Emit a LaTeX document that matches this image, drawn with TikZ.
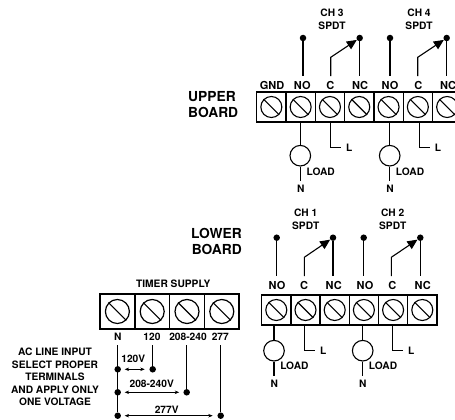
\documentclass[tikz,border=0pt]{standalone}
\usepackage{fontspec}
\setmainfont{TeX Gyre Heros}
\usetikzlibrary{arrows.meta}
\tikzset{
	lab/.style={font=\fontsize{10.2}{12.5}\selectfont\bfseries,inner sep=4.5pt},
	term/.style={font=\fontsize{11}{13}\selectfont\bfseries,inner sep=4.5pt},
	board/.style={font=\fontsize{13.8}{16.3}\selectfont\bfseries,align=left,inner sep=0pt},
	cell/.style={draw,line width=1.4pt,minimum width=29.3pt,minimum height=30pt,inner sep=0pt},
	bigcell/.style={draw,line width=1.5pt,minimum width=34.8pt,minimum height=35pt,inner sep=0pt},
	screw/.style={draw,circle,line width=1.1pt,minimum size=21pt,inner sep=0pt},
	bigscrew/.style={draw,circle,line width=1.2pt,minimum size=24pt,inner sep=0pt},
	dot/.style={fill,circle,minimum size=6.5pt,inner sep=0pt},
	loadc/.style={draw,circle,line width=1.1pt,minimum size=20.6pt,inner sep=0pt},
	wire/.style={line width=1.1pt},
	span/.style={line width=.7pt,<->,>={Stealth[length=4.5pt,width=3.5pt]}}
}
\begin{document}
\begin{tikzpicture}[x=1pt,y=-1pt]
\useasboundingbox (0,0) rectangle (455,420);
\clip (0,0) rectangle (455,420);
% upper board
\node[board] (upper) at (188,104.5) [anchor=west] {UPPER\\BOARD};
\foreach \i in {1,...,7}
{
	\node[cell] (u\i) at (242.05+29.3*\i,107) {};
	\node[screw] (us\i) at (u\i) {};
	\draw[wire] (us\i.135) -- (us\i.-45);
}
\foreach \t/\x [count=\i] in {GND/272,NO/302.3,C/330.3,NC/360,NO/390,C/418.3,NC/448}
{
	\node[term] (ut\i) at (\x,85) {\t};
}
\foreach \ch/\xch/\xno/\xc/\xnc/\xload/\xl in {3/332/303/330.7/359.7/300.3/330.7,4/419/390/417.7/446.7/389.7/419.3}
{
	\node[lab] (ch\ch) at (\xch,13) {CH \ch};
	\node[lab] (spdt\ch) at (\xch,25.7) {SPDT};
	\node[dot] (no\ch) at (\xno,38) {};
	\node[dot] (nc\ch) at (\xnc,38) {};
	\coordinate (el\ch) at (\xc,57.3);
	\draw[wire] (no\ch) -- (no\ch |- ut1.north);
	\draw[wire] (nc\ch) -- (nc\ch |- ut1.north);
	\draw[wire,-{Triangle[length=10pt,width=9pt]}] (el\ch |- ut1.north) -- (el\ch) -- (nc\ch);
	\node[loadc] (load\ch) at (\xload,155.7) {};
	\node[lab] (loadt\ch) at (\xload+20.4,172) {LOAD};
	\node[lab] (n\ch) at (\xload+.4,189) {N};
	\node[lab] (l\ch) at (\xl+18.6,147.7) {L};
	\coordinate (lw\ch) at (\xl,147.7);
	\draw[wire] (load\ch) -- (load\ch |- u1.south);
	\draw[wire] (load\ch) -- (load\ch |- n\ch.north);
	\draw[wire] (lw\ch |- u1.south) |- (l\ch.west);
}
% lower board
\node[board] (lower) at (242,241.5) [anchor=east,align=right] {LOWER\\BOARD};
\foreach \i in {1,...,6}
{
	\node[cell] (w\i) at (247.1+29.2*\i,310) {};
	\node[screw] (ws\i) at (w\i) {};
	\draw[wire] (ws\i.135) -- (ws\i.-45);
}
\foreach \t/\x [count=\i] in {NO/277,C/304,NC/333.7,NO/365,C/392.3,NC/422.7}
{
	\node[term] (wt\i) at (\x,285) {\t};
}
\foreach \ch/\xch/\xno/\xc/\xnc/\xload/\xl in {1/305.7/276.7/304.3/333/274/304.3,2/392.7/363.7/391.3/420.3/362.7/392.3}
{
	\node[lab] (ch\ch) at (\xch,213) {CH \ch};
	\node[lab] (spdt\ch) at (\xch,225.7) {SPDT};
	\node[dot] (no\ch) at (\xno,237.7) {};
	\node[dot] (nc\ch) at (\xnc,237.7) {};
	\coordinate (el\ch) at (\xc,257.3);
	\draw[wire] (no\ch) -- (no\ch |- wt1.north);
	\draw[wire] (nc\ch) -- (nc\ch |- wt1.north);
	\draw[wire,-{Triangle[length=10pt,width=9pt]}] (el\ch |- wt1.north) -- (el\ch) -- (nc\ch);
	\node[loadc] (load\ch) at (\xload,350.7) {};
	\node[lab] (loadt\ch) at (\xload+20.4,365.7) {LOAD};
	\node[lab] (n\ch) at (\xload+.2,384) {N};
	\node[lab] (l\ch) at (\xl+19,350.7) {L};
	\coordinate (lw\ch) at (\xl,350.7);
	\draw[wire] (load\ch) -- (load\ch |- w1.south);
	\draw[wire] (load\ch) -- (load\ch |- n\ch.north);
	\draw[wire] (lw\ch |- w1.south) |- (l\ch.west);
}
% timer supply
\node[lab] (timer) at (173.3,284) {TIMER SUPPLY};
\foreach \i in {1,...,4}
{
	\node[bigcell] (t\i) at (82.6+34.8*\i,311.5) {};
	\node[bigscrew] (ts\i) at (t\i) {};
	\draw[wire] (ts\i.135) -- (ts\i.-45);
}
\foreach \t/\x [count=\i] in {N/117.7,120/152,208-240/188,277/220.3}
{
	\node[lab] (tt\i) at (\x,337) {\t};
}
\node[dot] (dn1) at (117.7,369.3) {};
\node[dot] (dn2) at (117.7,392.3) {};
\node[dot] (dn3) at (117.7,415.7) {};
\node[dot] (dv1) at (152.7,369.3) {};
\node[dot] (dv2) at (186.7,392.3) {};
\node[dot] (dv3) at (220.7,415.7) {};
\draw[wire] (dn3) -- (dn3 |- tt1.south);
\foreach \i in {1,2,3}
{
	\draw[wire] (dv\i) -- (dv\i |- tt1.south);
}
\draw[span,shorten <=3.5pt,shorten >=4.5pt] (dn1) -- (dv1);
\draw[span,shorten <=3.5pt,shorten >=4pt] (dn2) -- (dv2);
\draw[span,shorten <=3.5pt,shorten >=4.5pt] (dn3) -- (dv3);
\node[lab] (v120) at (133.3,359.3) {120V};
\node[lab] (v208) at (151.7,384.3) {208-240V};
\node[lab] (v277) at (166.7,410) {277V};
\node[lab,align=center] (note) at (55,377) {AC LINE INPUT\\SELECT PROPER\\TERMINALS\\AND APPLY ONLY\\ONE VOLTAGE};
\end{tikzpicture}
\end{document}
